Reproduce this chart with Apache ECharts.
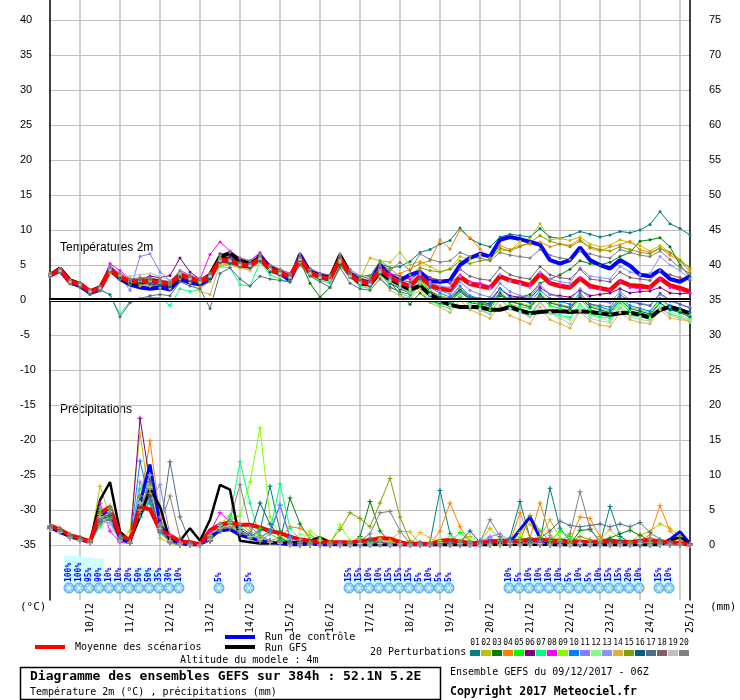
<!DOCTYPE html>
<html>
<head>
<meta charset="utf-8">
<title>GEFS 52.1N 5.2E</title>
<script src="https://cdn.jsdelivr.net/npm/echarts/dist/echarts.min.js"></script>
<style>
html, body { margin: 0; padding: 0; background: #fff; }
#main { width: 740px; height: 700px; }
</style>
</head>
<body>
<div id="main"></div>
<script>
// dates shown under the day lines (00Z)
var dayLabels = ['10/12','11/12','12/12','13/12','14/12','15/12','16/12','17/12','18/12','19/12','20/12','21/12','22/12','23/12','24/12','25/12'];
var memberNames = ['01','02','03','04','05','06','07','08','09','10','11','12','13','14','15','16','17','18','19','20'];
var memberColors = ['#008080','#c0c000','#008000','#ff8000','#00ff00','#800080','#00ff80','#ff00ff','#80ff00','#0080ff','#8080ff','#80ff80','#9090ff','#e0b040','#80a000','#006080','#507080','#806070','#c0c0c0','#808080'];

/* temperature 2m (°C), one value every 6h from 09/12 06Z */
var tempMean = [3.6,4.3,2.6,2.3,1.2,1.7,4.3,3.3,2.6,2.7,2.7,2.5,2.3,3.6,3.1,2.6,3.4,5.7,5.6,5.1,4.9,5.9,4.4,3.9,3.3,5.9,3.9,3.3,3.0,5.9,3.6,2.6,2.4,4.4,3.3,2.5,2.0,3.4,2.1,1.6,1.4,3.3,2.3,2.0,1.7,3.4,2.8,2.5,2.1,3.7,2.4,2.0,1.8,3.1,2.0,1.7,1.4,2.7,2.1,2.0,1.8,3.1,2.1,1.7,1.2];
var tempControl = [3.5,4.2,2.5,2.0,1.0,1.5,4.5,3.0,2.2,1.8,1.6,1.8,1.5,3.0,2.5,2.2,3.0,6.0,5.8,5.0,4.8,6.3,4.6,3.8,2.8,6.5,4.0,3.5,3.2,6.2,3.8,2.8,2.5,5.0,3.5,2.8,3.6,4.0,2.7,2.6,2.8,5.0,6.0,6.6,6.2,8.6,9.0,8.7,8.3,7.9,5.7,5.2,5.7,7.5,5.7,5.0,4.5,5.7,4.9,3.6,3.4,4.3,3.0,2.6,3.4];
var tempGfs = [3.5,4.5,2.8,2.3,1.2,1.8,4.2,3.2,2.4,2.5,2.8,2.6,2.0,3.4,3.2,2.4,3.6,6.2,6.7,5.6,5.2,6.0,4.6,4.0,3.2,6.0,4.0,3.4,3.0,6.4,3.7,2.4,2.2,4.0,3.0,2.2,1.5,2.0,0.8,0.0,-0.7,-1.0,-1.0,-1.0,-1.4,-1.4,-1.0,-1.5,-1.9,-1.7,-1.6,-1.6,-1.7,-1.6,-1.7,-1.9,-2.1,-1.9,-1.8,-2.1,-2.5,-1.4,-1.0,-1.4,-1.9];

var t01 = [3.4,4.1,2.4,2.0,0.8,1.5,4.0,3.5,2.8,2.3,2.0,2.2,2.0,3.2,2.8,2.2,3.0,5.4,5.8,5.5,5.0,6.4,4.8,4.2,3.6,6.2,4.5,3.8,3.2,6.0,4.0,3.4,3.5,5.2,4.6,4.8,5.5,6.8,7.2,8.0,8.5,10.3,8.8,8.0,7.6,9.0,9.4,9.2,9.0,10.2,9.0,8.8,9.2,9.8,9.4,9.0,9.3,9.8,9.6,10.0,10.8,12.6,10.9,10.2,9.3];
var t02 = [3.8,4.4,2.8,2.5,1.4,1.9,4.6,3.6,2.9,3.0,3.1,2.8,2.6,3.9,3.4,2.9,3.7,6.0,5.9,5.4,5.2,6.2,4.7,4.2,3.6,6.1,4.2,3.6,3.3,6.2,3.9,3.0,6.0,5.6,5.4,6.8,5.0,5.5,4.8,4.0,4.5,6.2,5.8,6.5,6.0,7.2,7.0,8.4,8.8,10.9,8.6,8.8,8.5,9.0,8.0,7.6,7.8,8.6,8.2,7.8,7.0,7.8,6.8,5.8,4.4];
var t03 = [3.5,4.2,2.5,2.2,1.0,1.4,4.0,3.0,2.2,2.4,2.5,2.3,2.0,3.3,2.8,2.4,3.2,5.5,5.3,4.8,4.6,5.6,4.0,3.5,2.9,5.6,2.4,0.4,1.8,5.0,3.2,2.2,2.0,3.6,2.6,0.8,-0.6,1.0,-0.2,-0.5,-0.8,0.5,-0.4,-0.6,-0.8,0.6,0.2,0.4,0.8,2.4,3.0,3.6,4.4,5.6,5.2,5.0,5.4,6.2,6.8,8.4,8.6,8.9,7.6,5.0,3.3];
var t04 = [3.3,4.0,2.3,1.9,0.9,1.3,3.8,3.2,2.5,2.0,2.2,2.4,1.8,3.0,2.7,1.9,2.6,5.2,5.0,4.6,4.3,5.5,4.2,3.6,3.0,5.6,3.8,3.3,3.0,5.8,3.8,2.8,2.6,4.8,3.4,3.8,4.4,5.2,5.6,8.6,7.3,10.0,8.9,7.3,6.0,7.8,7.2,7.8,8.0,8.3,7.6,8.0,7.8,8.7,7.4,7.0,7.6,7.9,8.4,7.2,6.8,7.4,6.4,5.6,4.0];
var t05 = [3.7,4.3,2.7,2.4,1.3,1.8,5.0,3.6,2.5,2.6,2.9,2.6,2.4,3.8,3.3,2.8,3.6,6.4,6.0,5.4,5.2,6.0,4.6,4.0,3.4,5.8,3.8,3.2,2.8,5.4,3.4,2.4,2.6,4.2,2.8,1.6,1.2,2.6,1.0,0.2,-0.4,1.4,0.0,-0.8,-1.4,0.8,-0.6,-1.0,-1.2,0.4,-0.8,-1.2,-1.5,0.2,-1.4,-1.8,-2.0,-0.4,-1.6,-1.8,-2.2,-0.4,-1.4,-1.6,-2.6];
var t06 = [3.6,4.2,2.6,2.1,1.1,1.9,4.4,3.4,2.8,3.0,3.4,3.2,3.5,6.0,4.0,3.0,3.8,6.6,6.2,5.5,5.2,6.0,4.5,4.0,3.5,6.0,4.1,3.4,3.1,6.0,3.8,2.8,2.4,4.6,3.2,2.6,1.8,3.0,1.2,0.6,0.2,1.6,0.4,0.2,0.0,1.6,0.6,0.4,0.2,1.8,0.8,0.6,0.4,1.4,0.6,0.8,1.0,1.6,1.0,1.2,1.3,1.8,1.0,0.9,1.0];
var t07 = [3.4,4.0,2.4,1.9,0.9,1.6,0.7,-2.0,-0.2,0.0,0.4,0.3,-0.8,1.6,1.2,1.5,2.8,4.8,4.6,2.2,2.0,5.4,3.6,3.0,2.5,5.6,3.4,2.8,2.4,5.5,3.2,2.0,1.6,3.8,2.0,1.0,0.4,2.2,0.0,-0.8,-1.2,0.8,-1.0,-1.5,-2.0,0.2,-1.2,-1.6,-2.0,-0.2,-1.8,-2.2,-2.5,-0.6,-2.0,-2.4,-2.6,-1.0,-2.2,-2.4,-2.8,-1.2,-2.0,-2.4,-3.2];
var t08 = [3.8,4.5,2.8,2.4,1.4,2.0,5.2,4.2,3.0,2.9,3.0,2.8,2.6,4.0,3.4,3.0,6.5,8.3,7.0,6.0,5.6,6.8,5.0,4.4,3.8,6.6,4.4,3.8,3.4,6.2,4.0,3.0,2.8,4.6,3.8,3.4,3.0,4.0,3.2,2.8,2.4,3.6,2.6,2.4,2.0,3.6,2.8,2.4,2.2,3.8,2.6,2.2,2.0,3.2,1.8,1.6,1.4,2.6,1.8,1.6,1.8,3.0,1.8,1.4,1.0];
var t09 = [3.5,4.1,2.5,2.2,1.1,1.6,4.8,3.2,2.4,2.6,2.6,2.3,2.1,3.4,3.0,2.5,3.3,6.0,5.6,5.0,4.8,5.8,4.2,3.8,3.1,5.6,3.6,3.0,2.7,5.6,3.4,2.6,2.2,4.0,2.4,1.8,1.4,2.8,1.4,0.6,0.2,1.8,0.4,-0.2,-0.6,1.2,0.0,-0.4,-0.8,1.0,-0.2,-0.6,-1.0,0.6,-0.8,-1.2,-1.6,0.2,-1.0,-1.4,-1.8,0.0,-1.0,-1.6,-2.2];
var t10 = [3.6,4.3,2.6,2.2,1.2,1.7,4.2,3.2,2.6,2.6,2.5,2.4,2.2,3.5,3.0,2.5,3.3,5.6,5.4,5.0,4.8,6.2,4.4,3.8,3.2,5.8,3.8,3.2,2.9,6.4,3.7,2.6,2.3,4.2,3.0,2.0,1.6,3.0,1.8,1.0,0.4,2.0,0.6,0.2,-0.4,1.6,0.4,0.0,-0.4,1.4,0.2,-0.2,-0.6,1.0,-0.6,-1.0,-1.4,0.4,-0.8,-1.2,-1.6,0.2,-0.8,-1.2,-1.8];
var t11 = [3.5,4.2,2.6,2.3,1.2,1.7,4.4,3.4,1.4,6.2,6.6,4.0,2.8,3.8,3.2,2.4,3.2,5.8,5.6,5.2,4.8,5.8,4.2,3.6,3.0,5.6,3.8,3.4,3.0,5.6,3.6,2.6,2.2,4.6,3.2,2.4,2.0,3.6,2.2,1.4,0.8,2.6,1.4,0.8,0.4,2.4,1.2,0.6,0.4,2.2,0.8,0.4,0.0,1.6,0.2,-0.2,-0.4,1.2,0.0,-0.4,-0.8,0.8,-0.2,-0.6,-1.0];
var t12 = [3.7,4.4,2.7,2.3,1.3,1.8,4.6,3.4,2.7,2.8,2.8,2.6,2.4,3.7,3.2,2.7,3.5,5.8,5.7,5.2,5.0,6.0,4.5,4.0,3.4,6.0,4.0,3.4,3.1,5.8,3.6,2.6,2.4,4.4,2.8,2.2,1.6,2.4,0.8,0.0,-0.8,1.0,-0.6,-1.2,-2.0,0.2,-1.4,-1.8,-2.4,-0.4,-2.0,-2.4,-2.8,-0.8,-2.2,-2.6,-3.0,-1.0,-2.0,-2.4,-2.6,-0.6,-1.6,-2.2,-2.8];
var t13 = [3.5,4.2,2.5,2.2,1.1,1.7,4.5,3.3,2.6,2.7,2.6,2.5,2.2,3.5,3.1,2.6,3.4,5.6,5.5,5.0,4.8,6.0,4.3,3.8,3.2,5.8,3.9,3.3,2.9,5.8,3.6,2.5,2.2,4.4,3.2,2.6,2.2,3.8,2.6,2.0,1.8,3.4,2.4,2.0,1.6,3.6,2.6,2.2,1.8,4.0,3.0,2.6,2.4,4.6,3.4,3.2,3.0,4.8,4.0,3.6,3.8,6.2,5.0,4.2,3.0];
var t14 = [3.4,4.0,2.3,2.0,0.8,1.4,4.0,3.0,2.3,2.2,2.0,1.8,1.6,3.2,2.5,1.2,0.8,5.0,5.0,4.6,4.4,5.6,4.0,3.4,2.8,5.4,3.6,3.0,2.6,5.4,3.2,2.2,1.8,3.4,1.4,0.6,0.2,1.6,-0.4,-1.0,-1.8,0.0,-1.4,-2.0,-2.6,-0.8,-2.2,-2.8,-3.4,-1.0,-2.8,-3.4,-4.0,-1.6,-3.0,-3.6,-3.8,-1.8,-2.8,-3.2,-3.4,-1.4,-2.6,-2.8,-3.0];
var t15 = [3.6,4.3,2.6,2.4,1.3,1.8,4.3,3.4,2.8,3.0,3.0,2.7,2.5,3.8,3.3,2.8,3.6,5.9,5.8,5.3,5.1,6.2,4.6,4.1,3.5,6.0,4.0,3.5,3.2,6.0,3.8,3.0,3.4,5.6,4.6,3.2,3.6,4.6,4.2,4.0,4.4,5.6,5.2,5.6,5.8,7.4,7.0,7.6,8.2,9.2,8.4,8.0,7.6,8.4,7.6,7.2,7.0,7.6,7.2,6.8,6.6,7.4,6.8,5.6,4.6];
var t16 = [3.5,4.2,2.5,2.1,1.0,1.5,4.1,3.1,2.4,2.4,2.3,2.1,1.9,3.3,2.8,2.2,3.0,5.4,5.2,4.8,4.6,5.6,4.0,3.6,3.0,5.6,3.6,3.0,2.7,5.6,3.3,2.3,2.0,3.8,2.4,1.6,1.0,2.4,1.0,0.4,0.0,1.4,0.2,-0.2,-0.6,1.0,-0.2,-0.6,-1.0,0.8,-0.4,-0.8,-1.2,0.4,-1.0,-1.4,-1.8,0.0,-1.2,-1.6,-2.0,-0.4,-1.4,-1.8,-2.4];
var t17 = [3.4,4.0,2.4,1.8,0.8,1.4,0.8,-2.4,-0.4,0.2,0.6,0.8,0.6,2.6,2.0,1.6,-1.2,3.8,4.6,3.0,2.0,3.4,3.0,2.8,2.6,5.0,3.4,2.6,1.8,4.6,2.4,1.6,1.4,3.0,1.8,1.2,0.8,2.2,0.6,0.0,-0.4,1.2,0.0,-0.4,-0.8,0.8,-0.2,-0.6,-1.0,0.6,-0.4,-0.8,-1.0,0.6,-0.6,-0.8,-1.0,0.8,-0.2,-0.6,-0.8,1.0,0.0,-0.6,-1.2];
var t18 = [3.7,4.4,2.7,2.3,1.3,1.8,4.4,3.5,2.8,2.9,3.0,2.7,2.4,3.7,3.2,2.7,3.5,5.8,5.8,5.2,5.0,6.0,4.5,4.0,3.4,6.2,4.0,3.4,3.0,6.2,3.8,2.8,2.6,4.6,3.4,2.8,2.6,4.2,3.2,2.8,2.6,4.4,3.4,3.0,2.8,4.6,3.6,3.2,3.0,4.8,3.6,3.2,3.0,4.4,3.0,2.8,2.6,4.0,3.2,3.0,2.8,4.2,3.6,3.2,2.8];
var t19 = [3.6,4.2,2.6,2.2,1.2,1.7,4.3,3.6,3.4,3.6,3.8,3.4,2.8,3.8,3.0,2.5,3.4,5.6,5.6,5.0,4.9,5.9,4.4,3.8,3.2,5.8,3.8,3.2,2.8,5.6,3.4,2.4,2.2,4.0,2.6,1.8,1.0,2.4,0.8,-0.2,-1.0,0.6,-0.8,-1.4,-2.0,0.0,-1.2,-1.8,-2.4,-0.2,-1.8,-2.6,-3.4,-1.4,-2.6,-3.0,-3.2,-1.2,-2.4,-2.8,-3.0,-1.0,-2.2,-2.6,-2.8];
var t20 = [3.8,4.5,2.9,2.5,1.5,2.0,4.8,3.8,3.0,3.2,3.2,2.9,2.6,4.2,3.6,3.0,3.8,6.4,6.8,6.0,5.6,6.6,5.0,4.4,3.8,6.6,4.4,3.8,3.6,6.6,4.4,3.4,3.0,5.2,4.2,5.4,4.2,6.6,5.8,5.4,5.6,6.8,6.2,6.0,5.6,6.8,6.4,6.2,6.0,7.2,6.4,6.0,5.8,7.0,6.6,6.2,6.0,7.2,6.8,6.4,6.2,7.0,5.8,4.6,3.8];

/* precipitation (mm) per 6h */
var precMean = [2.8,2.2,1.4,1.0,0.5,4.6,5.4,1.3,0.8,5.4,5.1,2.1,1.4,0.5,0.4,0.1,2.1,2.9,3.2,2.9,2.9,2.5,2.0,1.7,1.2,0.8,0.6,0.4,0.4,0.4,0.4,0.5,0.7,1.0,0.9,0.4,0.1,0.2,0.1,0.6,0.7,0.5,0.3,0.3,0.5,0.6,0.5,0.6,0.7,0.8,0.6,0.6,0.5,0.5,0.4,0.5,0.6,0.5,0.4,0.6,0.7,0.5,0.4,0.3,0.0];
var precControl = [2.5,1.8,1.2,0.8,0.4,4.2,5.0,0.8,0.4,6.0,11.5,3.0,0.8,0.2,0.0,0.0,1.2,2.0,2.2,1.4,1.0,0.6,0.4,0.2,0.0,0.0,0.2,0.0,0.0,0.0,0.0,0.0,0.0,0.0,0.0,0.0,0.0,0.0,0.0,0.0,0.0,0.0,0.0,0.0,0.0,0.6,0.4,2.2,4.0,1.0,0.0,0.0,0.0,0.0,0.0,0.0,0.0,0.0,0.0,0.0,0.0,0.0,0.8,1.9,0.2];
var precGfs = [2.6,2.0,1.2,0.8,0.4,6.4,9.0,1.9,0.6,4.0,8.1,5.5,0.6,0.6,2.4,0.6,3.6,8.6,7.9,0.6,0.4,0.2,0.2,0.3,0.4,0.4,0.6,1.1,0.4,0.2,0.0,0.0,0.0,0.0,0.0,0.0,0.0,0.0,0.0,0.0,0.0,0.0,0.0,0.0,0.0,0.0,0.0,0.0,0.0,0.0,0.0,0.0,0.0,0.0,0.0,0.0,0.0,0.0,0.0,0.0,0.0,0.0,0.6,1.2,0.0];

var p01 = [2.8,2.4,1.4,1.0,0.4,3.6,5.0,1.2,0.4,4.0,7.0,2.2,0.6,0.2,0.0,0.0,1.0,2.6,3.4,2.0,1.2,2.0,8.4,2.0,0.6,0.4,0.0,0.0,0.2,0.0,0.0,0.0,0.4,0.6,0.2,0.0,0.0,0.2,0.4,7.8,1.6,0.2,0.0,0.0,0.8,0.6,1.0,6.2,1.0,0.4,8.1,2.4,0.6,0.0,0.4,0.2,5.5,1.2,0.4,0.0,0.2,0.0,0.0,0.0,0.0];
var p02 = [2.2,1.8,1.0,0.8,0.2,8.4,4.0,0.6,2.0,16.0,6.0,1.0,0.2,0.0,0.0,0.0,1.4,3.0,4.2,3.0,2.0,1.2,0.6,0.4,0.2,0.0,0.0,0.0,0.0,0.2,0.0,0.0,0.4,1.0,0.6,1.9,1.9,0.0,0.4,0.2,0.0,0.6,1.2,0.4,2.4,0.8,0.4,1.8,3.0,1.2,3.6,1.0,0.6,0.2,0.6,0.8,2.2,0.8,0.4,1.4,2.0,3.0,2.4,1.2,0.2];
var p03 = [2.6,2.2,1.4,1.0,0.4,3.2,4.4,0.8,0.2,5.0,9.0,3.0,0.4,0.0,0.0,0.0,0.6,2.0,2.4,1.6,1.0,0.6,0.4,0.6,6.7,3.0,0.8,0.2,0.0,0.0,0.2,1.2,6.2,2.0,0.4,0.0,0.0,0.0,0.0,0.2,0.0,0.0,0.0,0.2,0.0,0.4,0.6,0.8,1.0,0.6,0.4,0.2,0.0,2.1,2.2,0.6,1.0,1.6,2.1,1.4,0.6,0.2,0.0,0.0,0.0];
var p04 = [2.4,2.0,1.2,0.6,0.4,4.0,5.6,1.0,0.4,6.0,14.9,4.0,0.6,0.2,0.0,0.0,0.8,2.4,3.0,2.0,1.0,0.8,0.6,1.0,2.6,2.4,1.4,0.8,0.4,0.2,0.0,0.0,0.4,0.8,0.6,0.2,0.0,0.0,0.0,2.0,6.0,2.6,0.4,0.0,0.2,0.6,0.4,4.6,1.0,6.0,1.4,0.4,0.6,4.0,3.8,1.2,0.4,0.2,0.0,0.6,1.4,5.6,2.0,0.6,0.0];
var p05 = [2.6,2.2,1.4,0.8,0.4,5.0,4.6,0.6,0.4,8.0,10.0,2.6,0.6,0.2,0.0,0.0,1.2,2.2,2.8,1.8,1.0,2.4,1.6,0.8,0.4,0.2,0.0,0.0,0.0,0.0,0.2,0.0,0.0,0.4,0.2,0.0,0.0,0.0,0.0,0.0,0.4,1.8,0.6,0.2,0.0,0.0,0.0,0.0,0.4,1.0,0.6,2.0,1.2,0.4,0.2,0.0,0.0,0.0,0.2,0.4,0.0,0.0,0.0,0.2,0.0];
var p06 = [2.4,1.8,1.0,0.6,0.2,3.0,4.0,0.8,0.2,18.1,9.0,2.0,0.4,0.0,0.0,0.0,0.6,2.4,2.8,2.2,1.4,0.8,0.4,0.2,0.0,0.0,0.0,0.0,0.0,0.2,0.4,0.0,0.0,0.4,0.2,0.0,0.0,0.0,0.0,0.2,0.0,0.0,0.2,0.6,0.4,0.0,0.2,0.4,0.6,0.2,0.0,0.4,0.0,0.2,0.4,0.0,0.0,0.2,0.0,0.0,0.0,0.4,0.2,0.0,0.0];
var p07 = [2.2,1.8,1.2,0.8,0.2,2.6,3.8,0.6,0.2,4.0,6.0,1.8,0.4,0.0,0.0,0.0,0.8,2.0,4.0,11.9,6.0,1.0,2.0,8.7,2.4,0.8,0.4,0.0,0.2,0.0,0.0,0.2,0.4,0.2,0.0,0.0,0.0,0.0,0.2,0.4,0.0,0.0,0.0,0.0,0.2,0.6,0.2,0.0,0.4,0.0,0.2,0.6,0.4,0.0,0.0,0.0,0.2,0.4,0.0,0.0,0.0,0.0,0.2,0.0,0.0];
var p08 = [2.4,2.0,1.2,0.8,0.2,6.0,2.0,0.4,0.2,5.0,7.0,2.4,0.4,0.0,0.0,0.0,1.8,4.6,3.4,2.0,1.2,0.6,0.4,0.2,0.0,0.0,0.0,0.0,0.0,0.0,0.0,0.2,0.0,0.0,0.0,0.0,0.0,0.0,0.0,0.0,0.2,0.4,0.0,0.0,0.0,0.0,0.0,0.0,0.2,0.4,0.0,0.0,0.0,0.0,0.0,0.2,0.0,0.0,0.0,0.2,0.4,0.2,0.0,0.0,0.0];
var p09 = [2.6,2.0,1.4,0.8,0.4,4.4,5.2,0.8,0.2,7.0,8.4,2.8,0.6,0.2,0.0,0.0,1.4,3.0,3.6,4.2,9.0,16.7,4.0,1.2,0.6,0.4,2.0,1.0,0.2,2.9,0.6,0.2,0.0,0.0,0.0,0.2,0.0,0.0,0.0,0.6,0.0,0.0,0.2,0.0,0.0,0.0,0.4,1.2,0.2,0.0,0.0,0.6,0.2,0.0,0.0,0.0,0.0,0.2,0.0,0.0,0.4,0.0,0.0,0.0,0.0];
var p10 = [2.4,2.0,1.2,0.8,0.4,4.0,5.4,1.2,0.4,12.0,6.0,1.8,0.4,0.0,0.0,0.0,0.8,2.6,3.0,2.6,1.6,1.0,2.0,5.7,1.2,0.4,0.0,0.0,0.2,0.0,0.0,0.0,0.0,0.2,0.0,0.0,0.0,0.0,0.2,0.0,0.4,0.2,0.0,0.0,0.4,0.8,0.4,0.6,0.2,0.0,0.2,0.0,0.0,0.0,0.0,0.4,0.0,0.0,0.0,0.0,0.2,0.6,0.4,0.0,0.0];
var p11 = [2.6,2.2,1.4,0.8,0.4,3.4,4.6,0.8,0.2,9.0,6.4,8.6,1.4,0.4,0.0,0.0,0.6,2.2,2.6,2.0,1.2,0.6,1.6,5.6,1.0,0.2,0.0,0.0,0.0,0.0,0.0,0.0,0.2,0.4,0.2,0.0,0.0,0.0,0.0,0.0,0.0,0.0,0.2,0.4,1.2,1.6,0.6,0.2,0.0,0.0,0.0,0.0,0.2,0.4,0.0,0.0,0.0,0.0,0.2,0.6,0.0,0.0,0.0,0.0,0.0];
var p12 = [2.4,2.0,1.2,0.8,0.4,3.8,4.8,1.0,0.2,6.0,8.0,2.0,0.4,0.0,0.0,0.0,1.0,2.8,3.2,2.4,1.4,1.0,0.6,0.4,0.2,1.6,1.2,0.6,0.2,0.0,0.0,0.0,0.2,0.6,0.4,0.0,0.0,0.0,0.0,0.4,1.2,0.4,0.0,0.0,0.0,0.2,0.0,0.0,0.4,0.6,0.2,0.0,0.0,0.0,0.2,0.6,0.0,0.0,0.0,0.0,0.0,0.0,0.0,0.0,0.0];
var p13 = [2.2,1.8,1.0,0.6,0.2,5.4,3.2,0.6,0.2,6.0,10.0,3.0,0.6,0.2,0.0,0.0,0.8,2.4,2.8,2.0,1.2,0.8,0.6,0.4,0.6,0.4,0.2,0.0,0.0,0.0,0.0,0.0,0.2,0.2,0.0,0.0,0.0,0.0,0.0,0.0,0.0,0.2,0.4,0.6,1.0,0.4,0.2,0.0,0.0,0.0,0.2,0.4,0.0,0.0,0.0,0.0,0.0,0.0,0.0,0.4,0.8,0.4,0.0,0.0,0.0];
var p14 = [2.8,2.4,1.6,1.0,0.6,3.0,4.2,1.0,0.4,5.0,7.4,2.4,0.4,0.0,0.0,0.0,0.8,2.2,2.6,1.8,1.0,0.6,0.4,0.2,0.0,0.0,0.0,0.0,0.0,0.0,0.4,1.0,0.6,0.2,0.0,0.0,0.0,1.8,1.0,0.2,0.0,0.0,0.0,0.2,0.0,0.2,0.0,0.6,0.2,0.0,0.2,0.0,0.0,0.0,0.2,0.4,0.0,0.0,0.2,0.0,0.0,0.2,0.4,0.0,0.0];
var p15 = [2.4,2.0,1.2,0.8,0.4,4.6,4.0,0.8,0.2,5.6,8.6,2.4,0.6,0.0,0.0,0.0,1.0,2.4,3.0,2.0,1.2,0.8,0.4,0.2,0.4,0.2,0.0,0.0,0.4,2.2,4.6,3.8,2.6,6.0,9.5,4.0,0.6,0.2,0.0,0.0,0.0,0.4,0.0,0.2,0.0,0.0,0.2,0.6,4.2,2.0,0.6,0.0,0.4,1.2,0.8,0.0,0.0,0.2,0.4,0.0,0.0,0.6,0.2,0.0,0.0];
var p16 = [2.6,2.2,1.4,1.0,0.4,3.6,4.2,1.0,0.2,5.4,7.0,2.6,0.6,0.0,0.0,0.0,0.6,2.2,2.8,2.0,1.4,6.0,3.0,1.0,0.4,0.2,0.0,0.0,0.0,0.0,0.0,0.4,0.6,0.2,0.0,0.0,0.0,0.0,0.0,0.0,0.4,0.4,2.0,0.4,0.0,0.2,0.0,0.0,0.4,0.6,0.0,0.0,0.2,0.0,0.0,0.0,0.4,0.6,0.2,0.0,0.0,0.0,0.4,1.0,0.2];
var p17 = [2.4,2.0,1.2,0.6,0.4,3.2,3.6,0.6,0.2,4.0,6.4,2.0,11.9,4.0,0.4,0.0,0.6,2.0,2.4,1.6,1.0,0.6,0.4,0.2,0.2,0.0,0.0,0.0,0.2,0.4,0.2,0.0,0.0,0.0,0.0,0.0,0.2,0.4,0.0,0.0,0.0,0.0,0.0,0.0,0.2,0.4,0.0,0.0,0.6,1.0,2.0,3.4,2.8,2.6,2.8,3.0,2.6,3.0,2.6,3.2,1.8,0.8,0.4,0.0,0.0];
var p18 = [2.6,2.0,1.2,0.8,0.4,3.8,4.4,0.8,0.2,7.0,8.0,2.2,0.4,0.0,0.0,0.0,0.6,2.0,2.4,1.8,1.2,0.6,0.4,0.4,0.2,0.0,0.0,0.0,0.0,0.0,0.2,0.4,1.0,0.4,0.0,0.0,0.0,0.0,0.0,0.2,0.4,0.2,0.0,0.0,0.2,0.4,0.2,0.0,0.0,0.0,0.2,0.4,0.2,0.0,0.0,0.0,0.2,0.4,0.2,0.0,0.0,0.2,0.0,0.0,0.0];
var p19 = [2.2,1.8,1.0,0.6,0.2,4.0,3.0,0.6,0.2,6.0,8.2,2.4,0.6,0.0,0.0,0.0,0.8,2.4,2.8,2.0,1.2,0.8,0.4,0.2,0.0,0.0,0.0,0.0,0.0,0.0,0.0,0.2,0.0,0.2,0.0,0.0,0.0,0.0,0.0,0.0,0.0,0.2,0.0,0.0,0.0,0.0,0.2,0.0,0.0,0.2,0.0,0.0,0.0,0.2,0.0,0.0,0.0,0.0,0.0,0.2,0.0,0.0,0.0,0.0,0.0];
var p20 = [2.4,2.0,1.2,0.8,0.4,3.6,5.0,1.0,0.2,4.6,9.0,3.0,7.0,1.0,0.2,0.0,1.2,3.0,3.6,8.6,2.6,1.4,0.6,0.4,0.2,0.0,0.2,0.0,0.0,0.2,0.4,0.6,1.6,4.6,4.8,2.0,0.2,0.0,0.0,0.0,0.0,0.0,0.2,0.4,3.6,1.2,0.4,0.2,0.2,0.6,1.0,0.4,1.6,7.6,2.4,0.4,0.0,0.2,0.0,0.6,1.0,0.4,0.0,0.0,0.0];

/* probability of snow (%) per 6h step */
var snowPct = [0,0,100,100,95,90,10,10,20,50,50,35,30,10,0,0,0,5,0,0,5,0,0,0,0,0,0,0,0,0,15,15,10,10,15,15,15,5,10,5,5,0,0,0,0,0,10,5,10,10,10,10,5,10,5,10,15,15,20,10,0,15,10,0,0];

var tempMembers = [t01,t02,t03,t04,t05,t06,t07,t08,t09,t10,t11,t12,t13,t14,t15,t16,t17,t18,t19,t20];
var precMembers = [p01,p02,p03,p04,p05,p06,p07,p08,p09,p10,p11,p12,p13,p14,p15,p16,p17,p18,p19,p20];

// x categories : hours since 09/12 06Z
var steps = [];
for (var h = 0; h <= 384; h += 6) steps.push(h);
function isDayStart(index) { return index % 4 === 3; }

var MONO = '"DejaVu Sans Mono", monospace';
var SNOW_ROW = -41.15;   // icon row under the frame, in frame units
var plusSymbol = 'path://M2,0H3V2H5V3H3V5H2V3H0V2H2Z';

var series = [];
tempMembers.forEach(function (d, k) {
    var s = {
        type: 'line', name: 'T' + memberNames[k], xAxisIndex: 1, yAxisIndex: 2,
        data: d, symbol: 'circle', symbolSize: 3, showAllSymbol: true,
        lineStyle: {color: memberColors[k], width: 1},
        itemStyle: {color: memberColors[k], borderWidth: 0},
        silent: true
    };
    if (k === 0) {
        /* double black line at 0 °C */
        s.markLine = {
            silent: true, symbol: 'none', label: {show: false},
            data: [
                {yAxis: 0, lineStyle: {color: '#000', width: 4, type: 'solid'}},
                {yAxis: 0, lineStyle: {color: '#fff', width: 1, type: 'solid'}}
            ]
        };
    }
    series.push(s);
});
precMembers.forEach(function (d, k) {
    series.push({
        type: 'line', name: 'P' + memberNames[k], xAxisIndex: 1, yAxisIndex: 3,
        data: d, symbol: plusSymbol, symbolSize: 5, showAllSymbol: true,
        lineStyle: {color: memberColors[k], width: 1},
        itemStyle: {color: memberColors[k], borderWidth: 0},
        silent: true
    });
});
function thick(data, axis, color, width) {
    return {
        type: 'line', xAxisIndex: 1, yAxisIndex: axis, data: data, showSymbol: false,
        lineStyle: {color: color, width: width}, itemStyle: {color: color}, silent: true
    };
}
series.push(thick(precControl, 3, '#0000ff', 3));
series.push(thick(precGfs, 3, '#000000', 2.5));
series.push(thick(precMean, 3, '#ff0000', 4));
series.push(thick(tempControl, 2, '#0000ff', 4));
series.push(thick(tempGfs, 2, '#000000', 4));
series.push(thick(tempMean, 2, '#ff0000', 4.5));

/* snow row : cyan column, snowflake and percentage */
series.push({
    type: 'custom', xAxisIndex: 0, yAxisIndex: 0, silent: true,
    data: snowPct.map(function (v, i) { return [i, v]; }).filter(function (d) { return d[1] > 0; }),
    renderItem: function (params, api) {
        var pct = api.value(1);
        var pt = api.coord([api.value(0), SNOW_ROW]);
        var hgt = 8 + pct * 0.24;
        var x = pt[0] - 1, y = pt[1];
        return {
            type: 'group',
            children: [
                {type: 'rect', shape: {x: x - 5, y: y - hgt, width: 10, height: hgt}, style: {fill: '#ccffff'}},
                {type: 'circle', shape: {cx: x, cy: y, r: 5}, style: {fill: '#80c8f0', stroke: '#5aa8e8', lineWidth: 1}},
                {type: 'line', shape: {x1: x - 4, y1: y, x2: x + 4, y2: y}, style: {stroke: '#e8f8ff', lineWidth: 1}},
                {type: 'line', shape: {x1: x - 2, y1: y - 3.5, x2: x + 2, y2: y + 3.5}, style: {stroke: '#e8f8ff', lineWidth: 1}},
                {type: 'line', shape: {x1: x + 2, y1: y - 3.5, x2: x - 2, y2: y + 3.5}, style: {stroke: '#e8f8ff', lineWidth: 1}},
                {type: 'text', x: x, y: y - 6, rotation: Math.PI / 2,
                    style: {text: pct + '%', x: 0, y: 0, align: 'left', verticalAlign: 'middle', fill: '#0000ff', font: 'bold 8px ' + MONO}}
            ]
        };
    }
});

/* legend and captions */
var graphics = [
    {type: 'text', x: 60, y: 248, style: {text: 'Températures 2m', font: '12px "Liberation Sans"', fill: '#000', verticalAlign: 'middle'}},
    {type: 'text', x: 60, y: 410, style: {text: 'Précipitations', font: '12px "Liberation Sans"', fill: '#000', verticalAlign: 'middle'}},
    {type: 'text', x: 20, y: 607, style: {text: '(°C)', font: '11px ' + MONO, fill: '#000', verticalAlign: 'middle'}},
    {type: 'text', x: 710, y: 607, style: {text: '(mm)', font: '11px ' + MONO, fill: '#000', verticalAlign: 'middle'}},
    {type: 'line', shape: {x1: 35, y1: 647, x2: 65, y2: 647}, style: {stroke: '#ff0000', lineWidth: 4}},
    {type: 'text', x: 75, y: 647, style: {text: 'Moyenne des scénarios', font: '10px ' + MONO, fill: '#000', verticalAlign: 'middle'}},
    {type: 'line', shape: {x1: 225, y1: 637, x2: 255, y2: 637}, style: {stroke: '#0000ff', lineWidth: 4}},
    {type: 'text', x: 265, y: 637, style: {text: 'Run de contrôle', font: '10px ' + MONO, fill: '#000', verticalAlign: 'middle'}},
    {type: 'line', shape: {x1: 225, y1: 647, x2: 255, y2: 647}, style: {stroke: '#000000', lineWidth: 4}},
    {type: 'text', x: 265, y: 648, style: {text: 'Run GFS', font: '10px ' + MONO, fill: '#000', verticalAlign: 'middle'}},
    {type: 'text', x: 180, y: 660, style: {text: 'Altitude du modele : 4m', font: '10px ' + MONO, fill: '#000', verticalAlign: 'middle'}},
    {type: 'text', x: 370, y: 652, style: {text: '20 Perturbations', font: '10px ' + MONO, fill: '#000', verticalAlign: 'middle'}},
    {type: 'rect', shape: {x: 20.5, y: 667.5, width: 420, height: 32}, style: {fill: 'none', stroke: '#000', lineWidth: 1.5}},
    {type: 'text', x: 30, y: 677, style: {text: 'Diagramme des ensembles GEFS sur 384h : 52.1N 5.2E', font: 'bold 13px ' + MONO, fill: '#000', verticalAlign: 'middle'}},
    {type: 'text', x: 30, y: 692, style: {text: 'Température 2m (°C) , précipitations (mm)', font: '10px ' + MONO, fill: '#000', verticalAlign: 'middle'}},
    {type: 'text', x: 450, y: 672, style: {text: 'Ensemble GEFS du 09/12/2017 - 06Z', font: '10px ' + MONO, fill: '#000', verticalAlign: 'middle'}},
    {type: 'text', x: 450, y: 692, style: {text: 'Copyright 2017 Meteociel.fr', font: 'bold 11.5px ' + MONO, fill: '#000', verticalAlign: 'middle'}}
];
memberColors.forEach(function (c, k) {
    graphics.push({type: 'rect', shape: {x: 470 + 11 * k, y: 650, width: 10, height: 6}, style: {fill: c}});
    graphics.push({type: 'text', x: 475 + 11 * k, y: 643, style: {text: memberNames[k], font: '8px ' + MONO, fill: '#000', align: 'center', verticalAlign: 'middle'}});
});

var myChart = echarts.init(document.getElementById('main'), null, {renderer: 'canvas'});
var option = {
    animation: false,
    backgroundColor: '#ffffff',
    grid: [
        // frame : day lines, date labels, snow row
        {left: 50, top: 0, width: 640, height: 600, outerBoundsMode: 'none'},
        // value area : -35..40 °C / 0..75 mm
        {left: 50, top: 20, width: 640, height: 525, outerBoundsMode: 'none'}
    ],
    xAxis: [
        {
            type: 'category', gridIndex: 0, data: steps, boundaryGap: false,
            axisLine: {lineStyle: {color: '#000', width: 1.5}},
            axisTick: {show: false},
            splitLine: {show: true, interval: isDayStart, lineStyle: {color: '#c0c0c0', width: 1.5}},
            axisLabel: {
                interval: isDayStart, rotate: 90, margin: 3, color: '#000',
                fontFamily: 'DejaVu Sans Mono', fontSize: 10, verticalAlign: 'top',
                padding: [5, 0, 0, 0],
                formatter: function (v, i) { return dayLabels[(i - 3) / 4]; }
            }
        },
        {type: 'category', gridIndex: 1, data: steps, boundaryGap: false, show: false}
    ],
    yAxis: [
        {type: 'value', gridIndex: 0, min: -300 / 7, max: 300 / 7, position: 'left',
            axisLine: {show: true, lineStyle: {color: '#000', width: 1.5}},
            axisTick: {show: false}, axisLabel: {show: false}, splitLine: {show: false}},
        {type: 'value', gridIndex: 0, min: -300 / 7, max: 300 / 7, position: 'right',
            axisLine: {show: true, lineStyle: {color: '#000', width: 1.5}},
            axisTick: {show: false}, axisLabel: {show: false}, splitLine: {show: false}},
        {type: 'value', gridIndex: 1, min: -35, max: 40, interval: 5, position: 'left',
            axisLine: {show: false}, axisTick: {show: false},
            axisLabel: {color: '#000', fontSize: 11, fontFamily: 'Liberation Sans', align: 'left', margin: 30},
            splitLine: {show: true, lineStyle: {color: '#c0c0c0', width: 1}}},
        {type: 'value', gridIndex: 1, min: 0, max: 75, interval: 5, position: 'right',
            axisLine: {show: false}, axisTick: {show: false},
            axisLabel: {color: '#000', fontSize: 11, fontFamily: 'Liberation Sans', margin: 19},
            splitLine: {show: false}}
    ],
    graphic: graphics,
    series: series
};
myChart.setOption(option);
</script>
</body>
</html>
